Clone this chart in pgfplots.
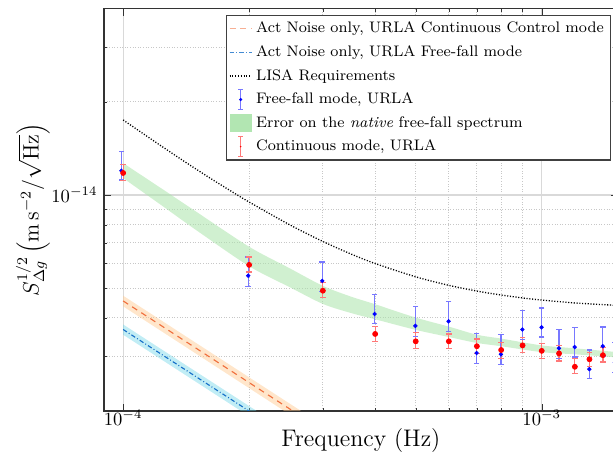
\documentclass[border=0pt]{standalone}
\usepackage{pgfplots}
\pgfplotsset{compat=1.18}
\usepgfplotslibrary{fillbetween}
\usepackage{pgfplotstable}
\definecolor{actor}{RGB}{240,110,60}
\definecolor{actbl}{RGB}{20,110,200}
\definecolor{bandgr}{RGB}{170,228,170}
\definecolor{bandor}{RGB}{255,200,140}
\definecolor{bandcy}{RGB}{100,210,230}
\definecolor{errbl}{RGB}{120,120,255}
\definecolor{errrd}{RGB}{255,120,120}

% free-fall mode: centre values
\pgfplotstableread{
x y
0.99e-4 11.98e-15
1.99e-4 5.48e-15
2.99e-4 5.27e-15
3.99e-4 4.12e-15
4.99e-4 3.77e-15
5.99e-4 3.90e-15
6.99e-4 3.08e-15
7.99e-4 3.05e-15
8.99e-4 3.67e-15
0.999e-3 3.73e-15
1.099e-3 3.19e-15
1.199e-3 3.22e-15
1.299e-3 2.73e-15
1.399e-3 3.24e-15
1.495e-3 2.87e-15
}\freefall
% free-fall mode: error bar ends (low, high)
\pgfplotstableread{
x y
0.99e-4 11.18e-15
0.99e-4 13.79e-15
nan nan
1.99e-4 5.06e-15
1.99e-4 6.30e-15
nan nan
2.99e-4 4.87e-15
2.99e-4 6.07e-15
nan nan
3.99e-4 3.83e-15
3.99e-4 4.75e-15
nan nan
4.99e-4 3.49e-15
4.99e-4 4.36e-15
nan nan
5.99e-4 3.62e-15
5.99e-4 4.51e-15
nan nan
6.99e-4 2.85e-15
6.99e-4 3.56e-15
nan nan
7.99e-4 2.83e-15
7.99e-4 3.53e-15
nan nan
8.99e-4 3.40e-15
8.99e-4 4.23e-15
nan nan
0.999e-3 3.47e-15
0.999e-3 4.31e-15
nan nan
1.099e-3 2.95e-15
1.099e-3 3.67e-15
nan nan
1.199e-3 2.99e-15
1.199e-3 3.72e-15
nan nan
1.299e-3 2.54e-15
1.299e-3 3.15e-15
nan nan
1.399e-3 3.01e-15
1.399e-3 3.74e-15
nan nan
1.495e-3 2.66e-15
1.495e-3 3.33e-15
}\freefallbars

% continuous mode: centre values
\pgfplotstableread{
x y
1e-4 11.78e-15
2e-4 5.94e-15
3e-4 4.90e-15
4e-4 3.55e-15
5e-4 3.36e-15
6e-4 3.36e-15
7e-4 3.24e-15
8e-4 3.15e-15
9e-4 3.26e-15
1e-3 3.13e-15
1.1e-3 3.07e-15
1.2e-3 2.78e-15
1.3e-3 2.94e-15
1.4e-3 3.03e-15
}\contmode
% continuous mode: error bar ends (low, high)
\pgfplotstableread{
x y
1e-4 11.12e-15
1e-4 12.52e-15
nan nan
2e-4 5.63e-15
2e-4 6.30e-15
nan nan
3e-4 4.65e-15
3e-4 5.21e-15
nan nan
4e-4 3.36e-15
4e-4 3.76e-15
nan nan
5e-4 3.19e-15
5e-4 3.58e-15
nan nan
6e-4 3.18e-15
6e-4 3.55e-15
nan nan
7e-4 3.07e-15
7e-4 3.42e-15
nan nan
8e-4 2.96e-15
8e-4 3.34e-15
nan nan
9e-4 3.09e-15
9e-4 3.45e-15
nan nan
1e-3 2.96e-15
1e-3 3.31e-15
nan nan
1.1e-3 2.90e-15
1.1e-3 3.26e-15
nan nan
1.2e-3 2.64e-15
1.2e-3 2.95e-15
nan nan
1.3e-3 2.78e-15
1.3e-3 3.10e-15
nan nan
1.4e-3 2.88e-15
1.4e-3 3.20e-15
}\contbars

\begin{document}
\begin{tikzpicture}
\begin{axis}[
  name=ax,
  scale only axis,
  width=276.2pt, height=216.1pt,
  xmode=log, ymode=log,
  xmin=9e-5, xmax=1.52e-3,
  ymin=2e-15, ymax=4e-14,
  xtick={1e-4,1e-3},
  ytick={1e-14},
  minor xtick={2e-4,3e-4,4e-4,5e-4,6e-4,7e-4,8e-4,9e-4},
  minor ytick={2e-15,3e-15,4e-15,5e-15,6e-15,7e-15,8e-15,9e-15,2e-14,3e-14},
  major tick length=3.6pt, minor tick length=1.8pt,
  tick style={black!80},
  axis line style={black!80, line width=0.6pt},
  grid=both,
  major grid style={black!15, line width=0.6pt},
  minor grid style={black!22, densely dotted, line width=0.5pt},
  unbounded coords=jump,
  xlabel={Frequency (Hz)},
  ylabel={$S_{\Delta g}^{1/2}\left(\mathrm{m\,s^{-2}/\sqrt{Hz}}\right)$},
  xlabel style={font=\fontsize{12.9}{15}\selectfont, yshift=5pt},
  ylabel style={font=\large, yshift=-6pt},
  tick label style={font=\normalsize},
  xticklabel style={yshift=4pt},
  legend style={at={(0.9863,0.985)}, anchor=north east, draw=black!75, line width=0.6pt,
    fill=white, font=\fontsize{8.2}{10}\selectfont, cells={anchor=west}, inner sep=1.5pt, row sep=1.3pt},
  legend cell align=left,
]
% green band
\addplot[name path=gup, draw=none, smooth, forget plot] coordinates {
(1e-4,12.68e-15) (1.25e-4,10.38e-15) (1.5e-4,8.80e-15) (2e-4,6.80e-15) (2.5e-4,5.79e-15)
(3e-4,5.08e-15) (3.5e-4,4.69e-15) (4e-4,4.43e-15) (5e-4,4.01e-15) (6e-4,3.75e-15)
(7e-4,3.53e-15) (8e-4,3.43e-15) (1e-3,3.26e-15) (1.2e-3,3.19e-15) (1.52e-3,3.10e-15)};
\addplot[name path=glo, draw=none, smooth, forget plot] coordinates {
(1e-4,11.34e-15) (1.25e-4,9.15e-15) (1.5e-4,7.67e-15) (2e-4,5.88e-15) (2.5e-4,5.03e-15)
(3e-4,4.44e-15) (3.5e-4,4.15e-15) (4e-4,3.96e-15) (5e-4,3.66e-15) (6e-4,3.47e-15)
(7e-4,3.32e-15) (8e-4,3.24e-15) (1e-3,3.10e-15) (1.2e-3,3.05e-15) (1.52e-3,2.98e-15)};
\addplot[draw=none, fill=bandgr, fill opacity=0.55, forget plot] fill between[of=gup and glo];
\addplot[draw=none, fill=bandor, fill opacity=0.45, forget plot] coordinates {
(1e-4,4.72e-15) (3e-4,1.80e-15) (3e-4,1.66e-15) (1e-4,4.36e-15)} -- cycle;
\addplot[draw=none, fill=bandcy, fill opacity=0.4, forget plot] coordinates {
(1e-4,3.81e-15) (3e-4,1.453e-15) (3e-4,1.347e-15) (1e-4,3.53e-15)} -- cycle;
% act lines
\addplot[draw=actor, line width=0.6pt, dash pattern=on 3.2pt off 2.6pt, forget plot] coordinates {
(1e-4,4.54e-15) (3e-4,1.73e-15)};
\addplot[draw=actbl, line width=0.6pt, dash pattern=on 2.4pt off 1.2pt on 0.5pt off 1.2pt, forget plot] coordinates {
(1e-4,3.67e-15) (3e-4,1.40e-15)};
% LISA
\addplot[draw=black, line width=0.7pt, dash pattern=on 0.6pt off 0.9pt, smooth, forget plot] coordinates {
(1e-4,17.49e-15) (1.2e-4,14.77e-15) (1.4e-4,12.84e-15) (1.6e-4,11.42e-15) (1.8e-4,10.34e-15)
(2e-4,9.487e-15) (2.5e-4,8.006e-15) (3e-4,7.072e-15) (3.5e-4,6.444e-15) (4e-4,6.000e-15)
(5e-4,5.434e-15) (6e-4,5.100e-15) (7e-4,4.887e-15) (8e-4,4.744e-15) (9e-4,4.643e-15)
(1e-3,4.570e-15) (1.2e-3,4.473e-15) (1.5e-3,4.394e-15) (1.52e-3,4.390e-15)};
% error bars
\addplot[draw=errbl, line width=0.65pt, mark=-, mark size=1.5pt,
  mark options={draw=errbl, solid, line width=0.65pt}, forget plot] table[x=x, y=y] {\freefallbars};
\addplot[draw=errrd, line width=0.65pt, mark=-, mark size=1.5pt,
  mark options={draw=errrd, solid, line width=0.65pt}, forget plot] table[x=x, y=y] {\contbars};
% points
\addplot[only marks, mark=*, mark size=0.95pt, mark options={draw=blue, fill=blue}, forget plot]
  table[x=x, y=y] {\freefall};
\addplot[only marks, mark=*, mark size=1.35pt, mark options={draw=red, fill=red}, forget plot]
  table[x=x, y=y] {\contmode};
% legend
\addlegendimage{legend image code/.code={\draw[draw=actor!55, line width=0.6pt, dash pattern=on 3.2pt off 2.6pt] (0cm,0cm) -- (0.42cm,0cm);}}
\addlegendentry{Act Noise only, URLA Continuous Control mode}
\addlegendimage{legend image code/.code={\draw[draw=actbl!80, line width=0.6pt, dash pattern=on 2.4pt off 1.2pt on 0.5pt off 1.2pt] (0cm,0cm) -- (0.42cm,0cm);}}
\addlegendentry{Act Noise only, URLA Free-fall mode}
\addlegendimage{legend image code/.code={\draw[draw=black, line width=0.7pt, dash pattern=on 0.6pt off 0.9pt] (0cm,0cm) -- (0.42cm,0cm);}}
\addlegendentry{LISA Requirements}
\addlegendimage{legend image code/.code={
  \draw[draw=errbl, line width=0.6pt] (0.21cm,-0.19cm) -- (0.21cm,0.19cm);
  \draw[draw=errbl, line width=0.6pt] (0.16cm,-0.19cm) -- (0.26cm,-0.19cm);
  \draw[draw=errbl, line width=0.6pt] (0.16cm,0.19cm) -- (0.26cm,0.19cm);
  \path[draw=none, fill=blue] (0.21cm,0cm) circle (0.9pt);}}
\addlegendentry{Free-fall mode, URLA}
\addlegendimage{legend image code/.code={\path[draw=none, fill=bandgr, fill opacity=0.9] (0cm,-0.17cm) rectangle (0.42cm,0.17cm);}}
\addlegendentry{Error on the \emph{native} free-fall spectrum}
\addlegendimage{legend image code/.code={
  \draw[draw=errrd, line width=0.6pt] (0.21cm,-0.19cm) -- (0.21cm,0.19cm);
  \draw[draw=errrd, line width=0.6pt] (0.16cm,-0.19cm) -- (0.26cm,-0.19cm);
  \draw[draw=errrd, line width=0.6pt] (0.16cm,0.19cm) -- (0.26cm,0.19cm);
  \path[draw=none, fill=red] (0.21cm,0cm) circle (0.45pt);}}
\addlegendentry{Continuous mode, URLA}
\end{axis}
\pgfresetboundingbox
\path[use as bounding box] ([xshift=-55.9pt,yshift=-26.3pt]ax.south west) rectangle ([xshift=-2.6pt,yshift=4.8pt]ax.north east);
\end{tikzpicture}
\end{document}
